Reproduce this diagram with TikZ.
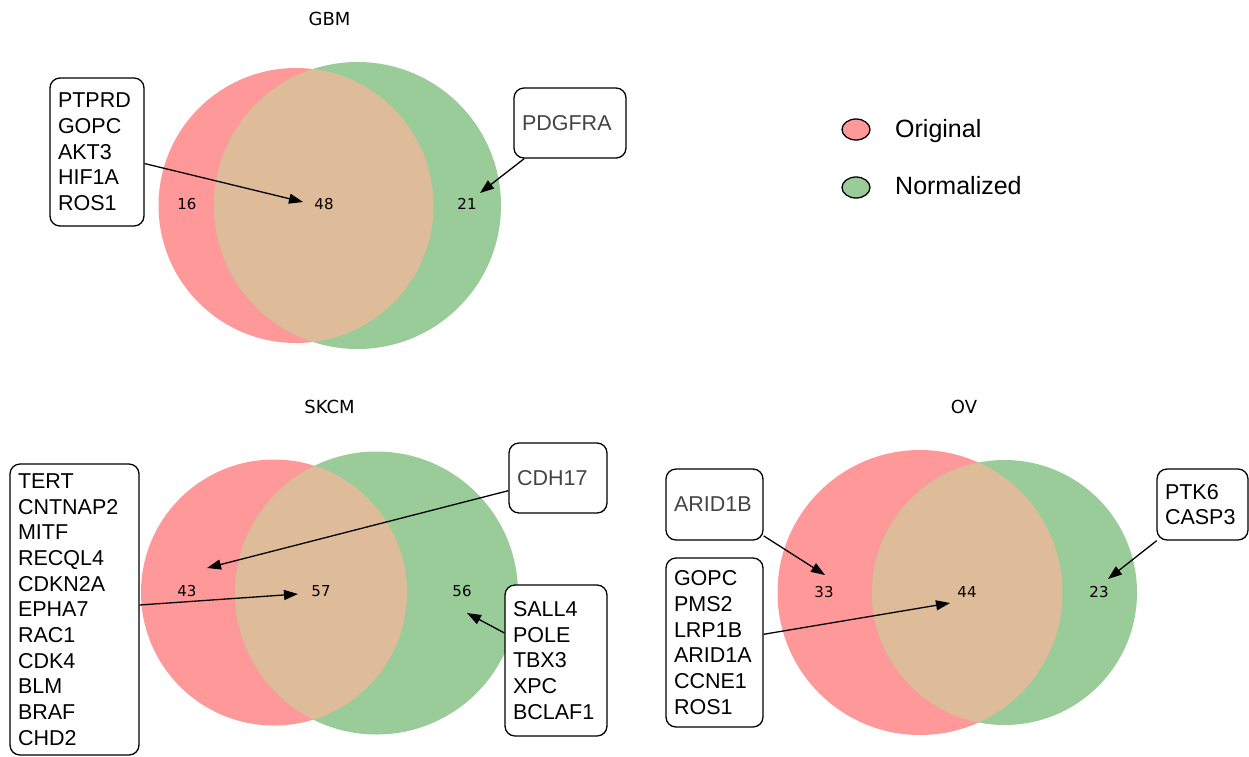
\documentclass[tikz,border=0pt]{standalone}
\usepackage{fontspec}
\setmainfont{Liberation Sans}
\newfontfamily\dejavu{DejaVu Sans}
\usetikzlibrary{arrows.meta,shapes.geometric}
\definecolor{vred}{HTML}{FF9999}
\definecolor{vgreen}{HTML}{99CC99}
\definecolor{vmix}{HTML}{DFBC99}
\definecolor{gtxt}{HTML}{444444}
\tikzset{
  genebox/.style={draw=black, line width=1.3pt, rounded corners=10pt, fill=white,
    align=left, inner xsep=8pt, inner ysep=0pt,
    font=\fontsize{21.5}{25.7}\selectfont},
  numlab/.style={font=\dejavu\fontsize{15}{18}\selectfont, inner sep=0pt},
  ttl/.style={font=\dejavu\fontsize{18}{21}\selectfont, inner sep=0pt},
  legtxt/.style={font=\fontsize{25}{28}\selectfont, anchor=base west, inner sep=0pt},
  arr/.style={line width=1.3pt, -{Triangle[length=14pt,width=10pt]}},
  legell/.style={draw=black, line width=1.3pt, ellipse, minimum width=28pt, minimum height=21pt, inner sep=0pt}
}
\begin{document}
\begin{tikzpicture}[x=1pt,y=-1pt]
\useasboundingbox (0,0) rectangle (1249,756);
% ---------- GBM ----------
\fill[vred] (296,205.5) circle (137.5);
\fill[vgreen] (357.5,205.5) circle (143.5);
\begin{scope}
\clip (296,205.5) circle (137.5);
\fill[vmix] (357.5,205.5) circle (143.5);
\end{scope}
\node[ttl] (tgbm) at (329.5,19) {GBM};
\node[numlab] (g16) at (187,204) {16};
\node[numlab] (g48) at (324,204) {48};
\node[numlab] (g21) at (467,204) {21};
\coordinate (ga1) at (303,202);
\coordinate (ga2) at (480,193);
\node[genebox, text width=78pt, minimum height=148pt] (gb1) at (97,152)
  {PTPRD\\GOPC\\AKT3\\HIF1A\\ROS1};
\node[genebox, text width=96pt, minimum height=70pt, text=gtxt] (gb2) at (570,123)
  {PDGFRA};
\draw[arr] (gb1) -- (ga1);
\draw[arr] (gb2) -- (ga2);
% ---------- Legend ----------
\node[legell, fill=vred] (le1) at (856,129.5) {};
\node[legell, fill=vgreen] (le2) at (856,187.5) {};
\node[legtxt] (lt1) at (895,137) {Original};
\node[legtxt] (lt2) at (895,194.5) {Normalized};
% ---------- SKCM ----------
\fill[vred] (274,592.5) circle (133);
\fill[vgreen] (376.5,593) circle (141.5);
\begin{scope}
\clip (274,592.5) circle (133);
\fill[vmix] (376.5,593) circle (141.5);
\end{scope}
\node[ttl] (tskcm) at (329.5,407) {SKCM};
\node[numlab] (s43) at (187,591) {43};
\node[numlab] (s57) at (321,591) {57};
\node[numlab] (s56) at (462,591) {56};
\coordinate (sa1) at (298,594);
\coordinate (sa2) at (207,568);
\coordinate (sa3) at (467,613);
\node[genebox, text width=113pt, minimum height=291pt] (sb1) at (74.5,609.5)
  {TERT\\CNTNAP2\\MITF\\RECQL4\\CDKN2A\\EPHA7\\RAC1\\CDK4\\BLM\\BRAF\\CHD2};
\node[genebox, text width=82pt, minimum height=70pt, text=gtxt] (sb2) at (558,478)
  {CDH17};
\node[genebox, text width=86pt, minimum height=151pt] (sb3) at (556,660.5)
  {SALL4\\POLE\\TBX3\\XPC\\BCLAF1};
\draw[arr] (sb1) -- (sa1);
\draw[arr] (sb2) -- (sa2);
\draw[arr] (sb3) -- (sa3);
% ---------- OV ----------
\fill[vred] (920,592.5) circle (142.5);
\fill[vgreen] (1004.5,592.5) circle (132.5);
\begin{scope}
\clip (920,592.5) circle (142.5);
\fill[vmix] (1004.5,592.5) circle (132.5);
\end{scope}
\node[ttl] (tov) at (964,407) {OV};
\node[numlab] (o33) at (824,592) {33};
\node[numlab] (o44) at (967,592) {44};
\node[numlab] (o23) at (1099,592) {23};
\coordinate (oa1) at (825,575);
\coordinate (oa2) at (950,603);
\coordinate (oa3) at (1108,579);
\node[genebox, text width=81pt, minimum height=71pt, text=gtxt] (ob1) at (714.5,504.5)
  {ARID1B};
\node[genebox, text width=81pt, minimum height=169pt] (ob2) at (714.5,642.5)
  {GOPC\\PMS2\\LRP1B\\ARID1A\\CCNE1\\ROS1};
\node[genebox, text width=75pt, minimum height=71pt] (ob3) at (1202.5,504.5)
  {PTK6\\CASP3};
\draw[arr] (ob1) -- (oa1);
\draw[arr] (ob2) -- (oa2);
\draw[arr] (ob3) -- (oa3);
\end{tikzpicture}
\end{document}
